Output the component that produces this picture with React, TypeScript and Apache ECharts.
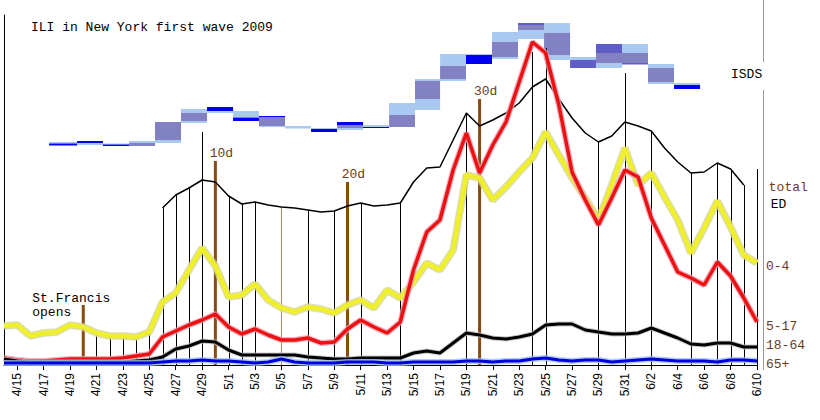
import React, { useEffect, useRef } from "react";
import * as echarts from "echarts";

// day categories, 4/14 .. 6/10
const days = [
  "4/14", "4/15", "4/16", "4/17", "4/18", "4/19", "4/20", "4/21", "4/22", "4/23", "4/24", "4/25",
  "4/26", "4/27", "4/28", "4/29", "4/30",
  "5/1", "5/2", "5/3", "5/4", "5/5", "5/6", "5/7", "5/8", "5/9", "5/10", "5/11", "5/12", "5/13",
  "5/14", "5/15", "5/16", "5/17", "5/18", "5/19", "5/20", "5/21", "5/22", "5/23", "5/24", "5/25",
  "5/26", "5/27", "5/28", "5/29", "5/30", "5/31",
  "6/1", "6/2", "6/3", "6/4", "6/5", "6/6", "6/7", "6/8", "6/9", "6/10",
];

// ED visits, relative units
const totalED = [
  null, null, null, null, null, null, null, null, null, null, null, null,
  31.4, 34.0, 35.4, 37.0, 36.6,
  33.8, 32.2, 32.6, 32.0, 31.6, 31.4, 31.0, 30.6, 30.8, 31.8, 32.4, 31.8, 32.0,
  32.4, 36.6, 39.4, 39.6, 45.0, 50.4, 47.8, 49.0, 50.4, 52.4, 55.6, 57.2,
  53.2, 49.4, 46.4, 44.6, 45.8, 48.6,
  47.8, 46.8, 43.4, 40.6, 38.4, 38.6, 40.4, 39.2, 36.0,
];
const age0to4 = [
  7.8, 8.0, 5.8, 6.4, 6.6, 8.0, 7.6, 6.4, 5.8, 5.8, 5.6, 6.6,
  12.6, 14.4, 19.0, 23.4, 19.8,
  13.6, 14.0, 16.2, 13.0, 11.4, 10.6, 11.6, 11.2, 10.4, 12.0, 13.0, 11.4, 15.0,
  13.4, 16.6, 20.4, 19.0, 23.0, 38.0, 37.4, 33.0, 35.6, 38.6, 41.4, 46.6,
  42.0, 37.4, 33.4, 29.0, 36.0, 43.4,
  36.0, 38.4, 33.6, 29.0, 22.4, 27.4, 32.8, 27.6, 22.0, 20.4,
];
const age5to17 = [
  1.4, 1.0, 0.8, 0.8, 1.0, 1.2, 1.2, 1.2, 1.2, 1.4, 1.8, 2.2,
  5.6, 6.8, 8.0, 9.0, 10.2,
  7.6, 6.2, 7.2, 6.0, 5.0, 5.0, 5.4, 4.4, 4.6, 7.2, 9.0, 7.6, 6.4,
  8.6, 19.0, 26.6, 29.0, 39.0, 46.4, 38.4, 44.0, 48.6, 56.6, 64.6, 62.4,
  52.0, 38.6, 33.0, 28.0, 33.4, 39.0,
  37.6, 29.4, 24.0, 18.6, 17.4, 16.0, 20.6, 17.8, 13.4, 8.6,
];
const age18to64 = [
  1.2, 0.8, 0.6, 0.6, 0.6, 0.6, 0.6, 0.6, 0.6, 0.6, 0.8, 1.0,
  1.6, 3.2, 3.8, 4.8, 4.6,
  3.0, 2.0, 2.0, 2.0, 2.0, 2.0, 1.6, 1.4, 1.2, 1.2, 1.4, 1.4, 1.4,
  1.4, 2.4, 2.8, 2.4, 4.4, 6.4, 6.0, 5.4, 5.2, 5.6, 6.2, 8.0,
  8.2, 8.2, 7.0, 6.6, 6.2, 6.2,
  6.4, 7.4, 6.4, 5.4, 4.2, 4.0, 4.4, 4.4, 3.6, 3.6,
];
const age65plus = [
  0.4, 0.4, 0.4, 0.4, 0.4, 0.4, 0.4, 0.4, 0.4, 0.4, 0.4, 0.4,
  0.6, 0.8, 0.8, 1.0, 0.8,
  0.8, 0.6, 0.4, 0.6, 1.2, 0.6, 0.4, 0.4, 0.4, 0.6, 0.6, 0.6, 0.4,
  0.4, 0.6, 0.6, 0.6, 0.6, 0.8, 0.8, 0.6, 0.8, 0.8, 1.2, 1.4,
  1.0, 0.8, 1.0, 1.0, 0.6, 0.8,
  1.0, 1.2, 1.0, 0.8, 0.8, 0.8, 0.6, 1.0, 1.0, 0.8,
];

// thin vertical drop lines
const dropDays = [
  "4/21", "4/22", "4/23", "4/24", "4/25", "4/26", "4/27", "4/28", "4/29", "5/1", "5/2", "5/3",
  "5/5", "5/7", "5/9", "5/11", "5/14", "5/19", "5/24", "5/25", "5/29", "5/31", "6/2", "6/5",
  "6/7", "6/8", "6/9", "6/10",
];
const dropTops = [
  6.0, 5.6, 5.8, 5.4, 7.0, 31.4, 34.0, 35.4, 46.6, 33.8, 32.2, 32.6,
  31.6, 31.0, 30.8, 32.4, 32.4, 50.4, 62.6, 63.4, 44.6, 58.4, 46.8, 38.4,
  40.4, 39.0, 36.0, 39.2,
];
const tanDropDays = ["5/5"];

// brown milestone markers
const milestoneDays = ["4/20", "4/30", "5/10", "5/20"];
const milestoneTops = [12.0, 40.8, 36.6, 53.2];
const milestoneLabels = ["St.Francis\nopens", "10d", "20d", "30d"];

// ISDS blocks: period edges in day units, layers [kind, top, bottom]
const isdsEdges = [
  3.41, 5.53, 7.49, 9.46, 11.43, 13.4, 15.37, 17.34, 19.3, 21.27, 23.24, 25.21, 27.18,
  29.15, 31.11, 33.01, 34.97, 36.94, 38.91, 40.88, 42.85, 44.81, 46.78, 48.75, 50.72, 52.69,
];
const isdsLayers: [string, number, number][][] = [
  [["L", 44.6, 44.3], ["B", 44.3, 43.9]],
  [["B", 44.8, 44.4], ["L", 44.4, 44.0]],
  [["L", 44.3, 44.1], ["B", 44.1, 43.8]],
  [["L", 44.8, 44.4], ["P", 44.4, 43.8]],
  [["P", 48.6, 45.0], ["L", 45.0, 44.4]],
  [["L", 51.2, 50.4], ["P", 50.4, 48.8], ["L", 48.8, 48.4]],
  [["B", 51.6, 50.8], ["L", 50.8, 50.4]],
  [["L", 50.8, 49.6], ["P", 49.6, 49.4], ["B", 49.4, 48.8]],
  [["B", 49.8, 49.6], ["P", 49.6, 47.8], ["L", 47.8, 47.6]],
  [["L", 47.8, 47.3]],
  [["L", 47.4, 47.2], ["B", 47.2, 46.6]],
  [["B", 48.6, 48.0], ["P", 48.0, 47.4], ["L", 47.4, 47.0]],
  [["L", 48.0, 47.6], ["B", 47.6, 47.4]],
  [["L", 52.4, 50.0], ["P", 50.0, 47.6]],
  [["L", 57.2, 56.8], ["P", 56.8, 53.2], ["L", 53.2, 51.0]],
  [["L", 62.2, 59.8], ["P", 59.8, 57.2], ["L", 57.2, 56.8]],
  [["L", 62.2, 62.0], ["B", 62.0, 60.2]],
  [["L", 66.6, 64.6], ["P", 64.6, 61.6], ["L", 61.6, 61.2]],
  [["D", 68.4, 68.0], ["P", 68.0, 67.0], ["L", 67.0, 65.2]],
  [["L", 68.4, 66.4], ["P", 66.4, 62.0], ["L", 62.0, 61.0]],
  [["L", 61.6, 61.0], ["D", 61.0, 59.4]],
  [["D", 64.2, 62.4], ["P", 62.4, 60.4], ["L", 60.4, 59.4]],
  [["L", 64.2, 62.4], ["P", 62.4, 60.4], ["D", 60.4, 60.1]],
  [["L", 60.2, 59.4], ["P", 59.4, 56.6], ["L", 56.6, 56.2]],
  [["L", 56.4, 56.0], ["B", 56.0, 55.2]],
];
const isdsKinds = ["L", "P", "D", "B"];
const isdsColors = ["#a9c9f0", "#8282c2", "#5e5ec6", "#0000f0"];

const MONO = '"Liberation Mono", "Courier New", monospace';
const BROWN_TEXT = "#6b3b1b";

const lineWithHalo = (
  name: string,
  data: (number | null)[],
  color: string,
  width: number,
  halo: string,
  haloWidth: number,
  label: string,
  dy: number
) => [
  {
    name: name + "-halo",
    type: "line",
    data,
    showSymbol: false,
    silent: true,
    lineStyle: { color: halo, width: haloWidth, opacity: 0.8 },
  },
  {
    name,
    type: "line",
    data,
    showSymbol: false,
    lineStyle: { color, width },
    endLabel: {
      show: true,
      formatter: label,
      distance: 9,
      offset: [0, dy],
      color: BROWN_TEXT,
      fontFamily: MONO,
      fontSize: 13,
    },
  },
];

const App: React.FC = () => {
  const chartRef = useRef<HTMLDivElement | null>(null);

  useEffect(() => {
    if (!chartRef.current) return;
    const chart = echarts.init(chartRef.current, null, { renderer: "svg" });

    const isdsRows: number[][] = [];
    isdsLayers.forEach((layers, k) => {
      layers.forEach(([kind, top, bottom]) => {
        isdsRows.push([isdsEdges[k], isdsEdges[k + 1], top, bottom, isdsKinds.indexOf(kind)]);
      });
    });

    const options = {
      animation: false,
      title: {
        text: "ILI in New York first wave 2009",
        left: 26,
        top: 16,
        textStyle: { fontFamily: MONO, fontSize: 13, fontWeight: "normal", color: "#000" },
      },
      grid: { left: 4, right: 63, top: 15, bottom: 55 },
      xAxis: [
        {
          type: "category",
          data: days,
          boundaryGap: false,
          axisLine: { lineStyle: { color: "#000", width: 1 } },
          axisTick: { interval: (i: number) => i % 2 === 1, length: 5, lineStyle: { color: "#000" } },
          axisLabel: {
            interval: (i: number) => i % 2 === 1,
            rotate: 90,
            margin: 8,
            fontFamily: '"Liberation Sans", Arial, sans-serif',
            fontSize: 12,
            color: "#000",
          },
          splitLine: { show: false },
        },
        { type: "value", min: 0, max: 57, show: false },
      ],
      yAxis: {
        type: "value",
        min: 0,
        max: 70,
        offset: 3,
        axisLine: { show: true, lineStyle: { color: "#000" } },
        axisTick: { show: false },
        axisLabel: { show: false },
        splitLine: { show: false },
      },
      graphic: [
        { type: "line", shape: { x1: 763.5, y1: 0, x2: 763.5, y2: 62 }, style: { stroke: "#999", lineWidth: 1 } },
        { type: "line", shape: { x1: 763.5, y1: 90, x2: 763.5, y2: 370 }, style: { stroke: "#999", lineWidth: 1 } },
        {
          type: "text",
          x: 731,
          y: 74,
          style: { text: "ISDS", fill: "#000", font: `13px ${MONO}`, textAlign: "left", textVerticalAlign: "middle" },
        },
      ],
      series: [
        {
          name: "ISDS",
          type: "custom",
          xAxisIndex: 1,
          yAxisIndex: 0,
          silent: true,
          data: isdsRows,
          encode: { x: [0, 1], y: [2, 3] },
          renderItem: (_params: any, api: any) => {
            const p0 = api.coord([api.value(0), api.value(2)]);
            const p1 = api.coord([api.value(1), api.value(3)]);
            return {
              type: "rect",
              shape: { x: p0[0], y: p0[1], width: p1[0] - p0[0], height: p1[1] - p0[1] },
              style: { fill: isdsColors[api.value(4)] },
            };
          },
        },
        {
          name: "drops",
          type: "custom",
          silent: true,
          data: dropDays.map((d, i) => [days.indexOf(d), dropTops[i]]),
          encode: { x: 0, y: 1 },
          renderItem: (_params: any, api: any) => {
            const idx = api.value(0);
            const top = api.coord([idx, api.value(1)]);
            const base = api.coord([idx, 0]);
            const x = Math.round(top[0]) + 0.5;
            return {
              type: "line",
              shape: { x1: x, y1: top[1], x2: x, y2: base[1] },
              style: { stroke: tanDropDays.includes(days[idx]) ? "#b98a5a" : "#000", lineWidth: 1 },
            };
          },
        },
        {
          name: "total ED",
          type: "line",
          data: totalED,
          showSymbol: false,
          lineStyle: { color: "#000", width: 1.5 },
          endLabel: {
            show: true,
            formatter: "{t|total}\n{e|ED}",
            offset: [17, 11],
            rich: {
              t: { color: BROWN_TEXT, fontFamily: MONO, fontSize: 13, lineHeight: 17 },
              e: { color: "#000", fontFamily: MONO, fontSize: 13, lineHeight: 17, padding: [0, 0, 0, 2] },
            },
          },
        },
        ...lineWithHalo("0-4", age0to4, "#f0f02a", 4.5, "#d4d49a", 7.5, "0-4", 3),
        ...lineWithHalo("5-17", age5to17, "#ee1111", 3.5, "#e8a0b2", 6, "5-17", 4),
        ...lineWithHalo("18-64", age18to64, "#000", 3, "#bbbbbb", 5, "18-64", -2),
        ...lineWithHalo("65+", age65plus, "#0000dd", 3, "#9cc0ea", 6, "65+", 3),
        {
          name: "milestones",
          type: "custom",
          silent: true,
          data: milestoneDays.map((d, i) => [days.indexOf(d), milestoneTops[i]]),
          encode: { x: 0, y: 1 },
          renderItem: (params: any, api: any) => {
            const idx = api.value(0);
            const top = api.coord([idx, api.value(1)]);
            const base = api.coord([idx, 0]);
            const first = params.dataIndex === 0;
            return {
              type: "group",
              children: [
                {
                  type: "line",
                  shape: { x1: top[0], y1: top[1], x2: base[0], y2: base[1] },
                  style: { stroke: "#8a4a10", lineWidth: 3 },
                },
                {
                  type: "text",
                  x: first ? top[0] - 51 : top[0] + 6,
                  y: first ? top[1] : top[1] - 8,
                  style: {
                    text: milestoneLabels[params.dataIndex],
                    fill: first ? "#000" : BROWN_TEXT,
                    font: `13px ${MONO}`,
                    lineHeight: 14,
                    textAlign: first ? "left" : "center",
                    textVerticalAlign: "middle",
                  },
                },
              ],
            };
          },
        },
      ],
    };

    chart.setOption(options as any);

    return () => {
      chart.dispose();
    };
  }, []);

  return (
    <div
      ref={chartRef}
      style={{ position: "fixed", left: 0, top: 0, width: 820, height: 420, background: "#fff" }}
    />
  );
};

export default App;
